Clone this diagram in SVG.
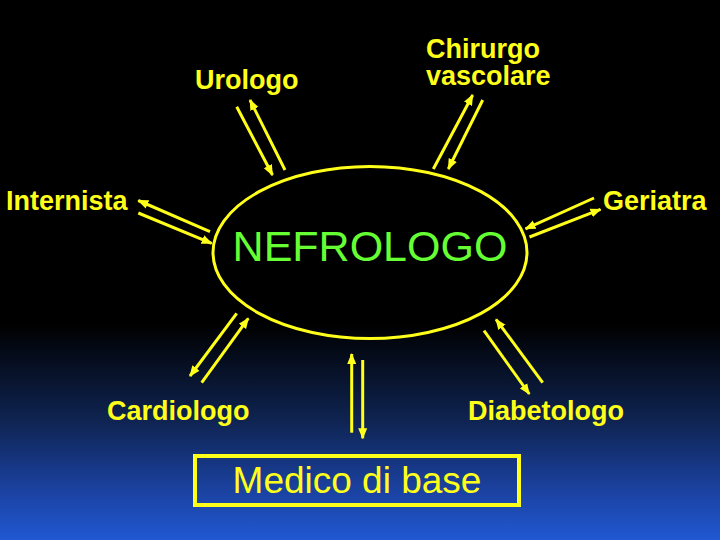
<svg xmlns="http://www.w3.org/2000/svg" width="720" height="540" viewBox="0 0 720 540">
  <defs>
    <linearGradient id="bg" x1="0" y1="0" x2="0" y2="540" gradientUnits="userSpaceOnUse">
      <stop offset="0" stop-color="#000000"/>
      <stop offset="0.6" stop-color="#000000"/>
      <stop offset="0.78" stop-color="#0f2452"/>
      <stop offset="0.9" stop-color="#1a409c"/>
      <stop offset="1" stop-color="#2058d2"/>
    </linearGradient>
    <marker id="ah" markerUnits="userSpaceOnUse" markerWidth="11" markerHeight="10" refX="10" refY="5" orient="auto" viewBox="0 0 11 10">
      <path d="M0,0.5 L11,5 L0,9.5 z" fill="#ffff1a"/>
    </marker>
    <style>
      .lbl { font-family: "Liberation Sans", Arial, sans-serif; font-weight: bold; font-size: 27px; fill: #ffff1a; }
      .conn line { stroke: #ffff1a; stroke-width: 3; marker-end: url(#ah); }
    </style>
  </defs>
  <rect x="0" y="0" width="720" height="540" fill="url(#bg)"/>

  <g id="nefrologo">
    <ellipse cx="370" cy="252.5" rx="157" ry="86" fill="none" stroke="#ffff1a" stroke-width="3"/>
    <text x="370" y="261" text-anchor="middle" font-family="Liberation Sans, Arial, sans-serif" font-size="43" fill="#66ff33">NEFROLOGO</text>
  </g>
  <g id="urologo"><text class="lbl" x="195" y="89">Urologo</text></g>
  <g id="chirurgo"><text class="lbl" x="426" y="57.5">Chirurgo</text><text class="lbl" x="426" y="85">vascolare</text></g>
  <g id="internista"><text class="lbl" x="6" y="209.5">Internista</text></g>
  <g id="geriatra"><text class="lbl" x="603" y="209.5">Geriatra</text></g>
  <g id="cardiologo"><text class="lbl" x="107" y="420">Cardiologo</text></g>
  <g id="diabetologo"><text class="lbl" x="468" y="420">Diabetologo</text></g>
  <g id="medico">
    <rect x="195" y="456" width="324" height="49" fill="none" stroke="#ffff1a" stroke-width="4"/>
    <text x="357" y="492.5" text-anchor="middle" font-family="Liberation Sans, Arial, sans-serif" font-size="37" fill="#ffff1a">Medico di base</text>
  </g>

  <g id="connectors" class="conn">
    <line x1="236.7" y1="106.7" x2="272.5" y2="175"/>
    <line x1="285" y1="170" x2="250" y2="100"/>
    <line x1="433.3" y1="169" x2="472.7" y2="95"/>
    <line x1="482.7" y1="100" x2="448.3" y2="169"/>
    <line x1="210" y1="231.7" x2="138.3" y2="200.5"/>
    <line x1="138.3" y1="213" x2="211.7" y2="243.3"/>
    <line x1="594" y1="198" x2="525.5" y2="228.8"/>
    <line x1="529.5" y1="237" x2="600.5" y2="209.3"/>
    <line x1="236.7" y1="313.3" x2="190" y2="376"/>
    <line x1="201.7" y1="382.7" x2="248.3" y2="318.3"/>
    <line x1="351.7" y1="432.7" x2="351.7" y2="354"/>
    <line x1="362.7" y1="360" x2="362.7" y2="438.3"/>
    <line x1="484" y1="330.7" x2="529.3" y2="394"/>
    <line x1="542.7" y1="382.7" x2="496" y2="319.3"/>
  </g>
</svg>
